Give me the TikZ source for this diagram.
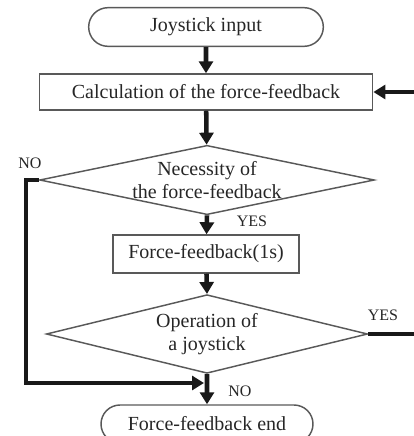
\documentclass[tikz,border=0pt]{standalone}
\usepackage{fontspec}
\setmainfont{Liberation Serif}
\usetikzlibrary{arrows.meta,shapes.geometric,shapes.misc,positioning}

\tikzset{
  box/.style={draw=black!65,line width=1.1pt,rectangle,inner sep=0pt,text=black!85},
  terminal/.style={draw=black!65,line width=1.1pt,rounded rectangle,inner sep=0pt,text=black!85},
  decision/.style={draw=black!65,line width=1.1pt,diamond,inner sep=0pt},
  answer/.style={text=black!85,font=\fontsize{12}{14}\selectfont,inner sep=0pt},
  flow/.style={line width=3.4pt,black!90,-{Triangle[length=9pt,width=10.5pt]}},
}

\begin{document}
\begin{tikzpicture}[x=0.75pt,y=-0.75pt,font=\fontsize{15}{17.5}\selectfont]

\useasboundingbox (0,0) rectangle (414,436);
\clip (0,0) rectangle (414,436);

%start
\node[terminal,minimum width=176pt,minimum height=29pt] (start) at (206,27) {Joystick input};
%calculation
\node[box,minimum width=250pt,minimum height=27pt] (calc) at (206,92) {Calculation of the force-feedback};
%necessity
\node[decision,minimum width=251pt,minimum height=52pt,
  label={[align=center,text=black!85]center:Necessity of\\the force-feedback}] (nec) at (207,180) {};
%force-feedback
\node[box,minimum width=139.5pt,minimum height=28.5pt] (fb) at (206,254) {Force-feedback(1s)};
%operation
\node[decision,minimum width=241pt,minimum height=59pt,
  label={[align=center,text=black!85]center:Operation of\\a joystick}] (op) at (207,334) {};
%end
\node[terminal,minimum width=159pt,minimum height=28.5pt] (stop) at (207,424) {Force-feedback end};

%main flow
\draw[flow] (start) -- (calc);
\draw[flow] (calc) -- (nec);
\draw[flow] (nec.south) -- (fb);
\draw[flow] (fb) -- (op.north);
\draw[flow] (op.south) -- (stop);

%no -> end
\coordinate (join) at (204,383);
\draw[flow] (nec.west) -- ++(-13,0) |- (join);
%yes -> back to calculation
\draw[flow] (op.east) -- ++(52,0) |- (calc.east);

%answers
\node[answer] (no1) at (30,163) {NO};
\node[answer] (yes1) at (252,221) {YES};
\node[answer] (yes2) at (383,315) {YES};
\node[answer] (no2) at (240,391) {NO};

\end{tikzpicture}
\end{document}
